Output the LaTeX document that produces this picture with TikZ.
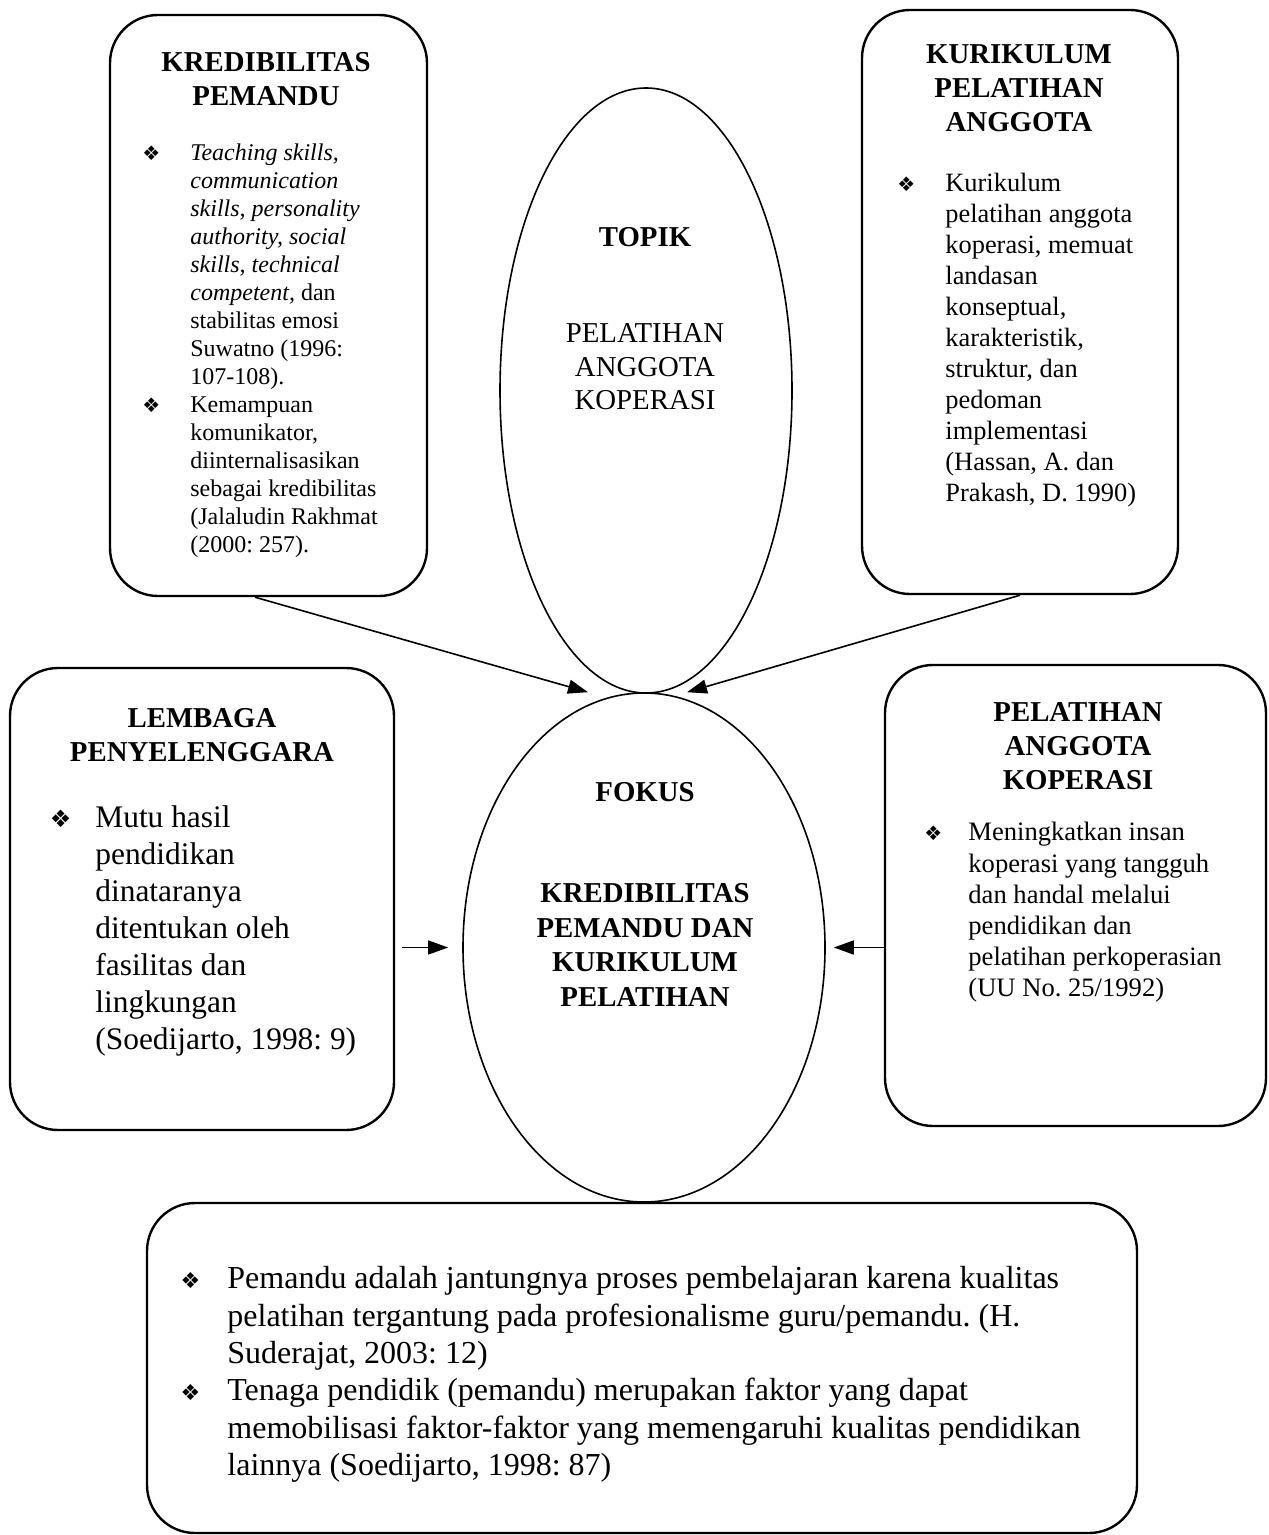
\documentclass[tikz,border=0pt]{standalone}
\usepackage{fontspec}
\setmainfont{Liberation Serif}
\newfontfamily\dingfont{DejaVu Sans}
\usetikzlibrary{arrows.meta}
\usetikzlibrary{calc}
\usetikzlibrary{positioning}
\usetikzlibrary{shapes.geometric}
\frenchspacing

\newcommand{\itm}[2][10]{\llap{{\dingfont\fontsize{#1}{#1}\selectfont ❖}\hspace{#2}}}

\begin{document}
\begin{tikzpicture}[x=0.5pt, y=-0.5pt, >={Triangle[length=10pt, width=7pt]},
    panel/.style={draw, line width=1.2pt, rounded corners=24pt},
    oval/.style={draw, ellipse, line width=0.8pt, inner sep=0pt},
    head/.style={font=\fontsize{14.4}{17}\selectfont\bfseries, align=center,
                 inner sep=0pt},
    list/.style={align=left, inner sep=0pt, anchor=north west},
    link/.style={->, line width=0.8pt}]
      \useasboundingbox (0,0) rectangle (1268,1535);

      % boxes round the centre
      \node [panel, minimum width=158.5pt, minimum height=290.5pt]
            (kredibilitas) at (268.5,305.5) {};
      \node [panel, minimum width=158pt, minimum height=292pt]
            (kurikulum) at (1020,302) {};
      \node [panel, minimum width=192pt, minimum height=231pt]
            (lembaga) at (202,899) {};
      \node [panel, minimum width=190.5pt, minimum height=230.5pt]
            (anggota) at (1075.5,895.5) {};
      \node [panel, minimum width=495pt, minimum height=165pt]
            (pemandu) at (642,1368) {};

      % the two ovals
      \node [oval, minimum width=146pt, minimum height=302.5pt]
            (topik) at (646,390.5) {};
      \node [oval, minimum width=181pt, minimum height=254.5pt]
            (fokus) at (644,947.5) {};

      % titles
      \node [head] (kredtitle) at (266,79) {KREDIBILITAS\\PEMANDU};
      \node [head] (kurtitle) at (1019,88.5) {KURIKULUM\\PELATIHAN\\ANGGOTA};
      \node [head] (lemtitle) at (202,735) {LEMBAGA\\PENYELENGGARA};
      \node [head] (angtitle) at (1078,746.5) {PELATIHAN\\ANGGOTA\\KOPERASI};
      \node [head] (topiktitle) at (645,237) {TOPIK};
      \node [head, font=\fontsize{14.4}{16.8}\selectfont] (topiktext)
            at (645,367) {PELATIHAN\\ANGGOTA\\KOPERASI};
      \node [head] (fokustitle) at (645,792) {FOKUS};
      \node [head, font=\fontsize{14.4}{17.3}\selectfont\bfseries] (fokustext)
            at (645,945) {KREDIBILITAS\\PEMANDU DAN\\KURIKULUM\\PELATIHAN};

      % bullet lists
      \node [list, font=\fontsize{12}{14}\selectfont] (kredlist) at (190,143)
            {\itm{15pt}\textit{Teaching skills,}\\\textit{communication}\\
             \textit{skills, personality}\\\textit{authority, social}\\
             \textit{skills, technical}\\\textit{competent,} dan\\
             stabilitas emosi\\Suwatno (1996:\\107-108).\\
             \itm{15pt}Kemampuan\\komunikator,\\diinternalisasikan\\
             sebagai kredibilitas\\(Jalaludin Rakhmat\\(2000: 257).};
      \node [list, font=\fontsize{13.2}{15.5}\selectfont] (kurlist) at (945,172.5)
            {\itm{15pt}Kurikulum\\pelatihan anggota\\koperasi, memuat\\landasan\\
             konseptual,\\karakteristik,\\struktur, dan\\pedoman\\implementasi\\
             (Hassan, A. dan\\Prakash, D. 1990)};
      \node [list, font=\fontsize{15.7}{18.5}\selectfont] (lemlist) at (95,805.5)
            {\itm[12]{12pt}Mutu hasil\\pendidikan\\dinataranya\\ditentukan oleh\\
             fasilitas dan\\lingkungan\\(Soedijarto, 1998: 9)};
      \node [list, font=\fontsize{13.3}{15.6}\selectfont] (anglist) at (968,822)
            {\itm{13pt}Meningkatkan insan\\koperasi yang tangguh\\
             dan handal melalui\\pendidikan dan\\pelatihan perkoperasian\\
             (UU No. 25/1992)};
      \node [list, font=\fontsize{16}{18.7}\selectfont] (pemlist) at (227,1266)
            {\itm[11]{13.5pt}Pemandu adalah jantungnya proses pembelajaran karena kualitas\\
             pelatihan tergantung pada profesionalisme guru/pemandu. (H.\\
             Suderajat, 2003: 12)\\
             \itm[11]{13.5pt}Tenaga pendidik (pemandu) merupakan faktor yang dapat\\
             memobilisasi faktor-faktor yang memengaruhi kualitas pendidikan\\
             lainnya (Soedijarto, 1998: 87)};

      % arrows into the focus
      \draw [link] ([xshift=-6.75pt]kredibilitas.south) -- ([xshift=-28pt]fokus.north);
      \draw [link] (kurikulum.south) -- ([xshift=21.5pt]fokus.north);
      \draw [link, line width=0.6pt, shorten <=3.5pt, shorten >=7pt]
            (lembaga.east |- fokus.west) -- (fokus.west);
      \draw [link, shorten >=4pt] (anggota.west |- fokus.east) -- (fokus.east);
\end{tikzpicture}
\end{document}
